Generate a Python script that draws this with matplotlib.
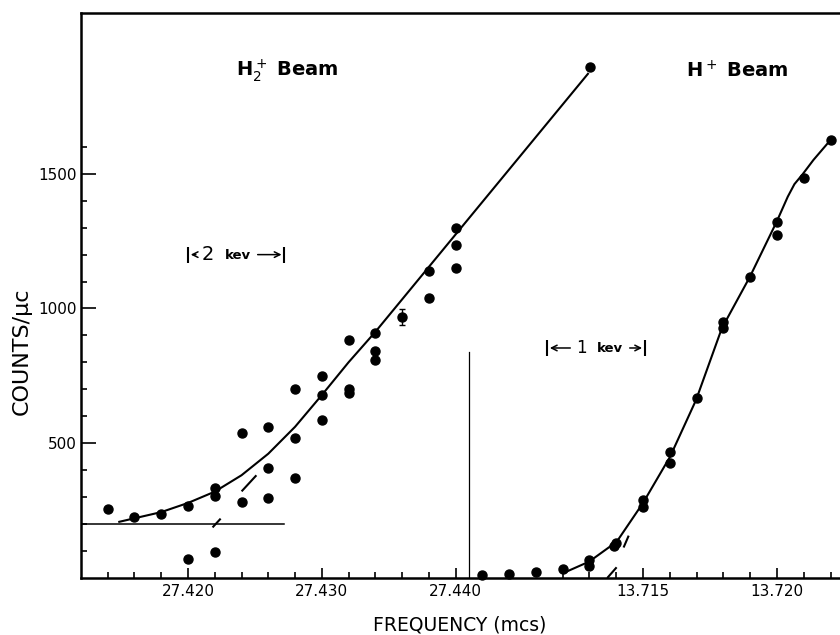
import matplotlib
matplotlib.use('Agg')
import matplotlib.pyplot as plt

plt.rcParams['font.family'] = ['DejaVu Sans']

# H2+ beam (left scale, mcs)
h2_freq = [27.414, 27.416, 27.418, 27.420, 27.420, 27.422, 27.422, 27.422,
           27.424, 27.424, 27.426, 27.426, 27.426, 27.428, 27.428, 27.428,
           27.430, 27.430, 27.430, 27.432, 27.432, 27.432, 27.434, 27.434,
           27.434, 27.438, 27.438, 27.440, 27.440, 27.440, 27.450]
h2_counts = [253, 226, 235, 266, 68, 334, 303, 95,
             537, 281, 558, 406, 295, 702, 520, 369,
             749, 677, 585, 884, 685, 700, 908, 841,
             807, 1039, 1140, 1149, 1236, 1299, 1899]
h2_err_freq = [27.436]
h2_err_counts = [967]
h2_err = [30]

h2_fit_freq = [27.41487, 27.416, 27.418, 27.420, 27.422, 27.424, 27.426,
               27.428, 27.430, 27.432, 27.434, 27.44988]
h2_fit_counts = [207, 220, 243, 277, 319, 380, 460, 560, 678, 800, 913, 1872]

h2_base_freq = [27.41201, 27.4272]
h2_base_counts = [200, 200]
h2_dash1_freq = [27.42189, 27.42239]
h2_dash1_counts = [189, 216]
h2_dash2_freq = [27.42406, 27.42506]
h2_dash2_counts = [323, 377]

divider_freq = [27.44102, 27.44102]
divider_counts = [0, 838]

# H+ beam (right scale, mcs)
h_freq = [13.709, 13.710, 13.711, 13.712, 13.713, 13.713, 13.7139, 13.714,
          13.715, 13.715, 13.716, 13.716, 13.717, 13.718, 13.718, 13.719,
          13.720, 13.720, 13.721, 13.722]
h_counts = [8, 13, 22, 32, 65, 43, 117, 129,
            288, 261, 468, 424, 668, 951, 926, 1118,
            1322, 1273, 1486, 1626]

h_fit_freq = [13.71215, 13.71299, 13.71402, 13.71500, 13.71601, 13.71698,
              13.71794, 13.71899, 13.71999, 13.72040, 13.72065, 13.72095,
              13.72136, 13.72191]
h_fit_counts = [22, 59, 133, 277, 449, 660, 926, 1118, 1323, 1415, 1462, 1498,
                1552, 1616]

h_dash1_freq = [13.71369, 13.71399]
h_dash1_counts = [1, 35]
h_dash2_freq = [13.71429, 13.71445]
h_dash2_counts = [115, 152]

# ticks
h2_major = [27.420, 27.430, 27.440]
h2_major_labels = ['27.420', '27.430', '27.440']
h2_minor = [27.414, 27.416, 27.418, 27.422, 27.424, 27.426, 27.428,
            27.432, 27.434, 27.436, 27.438]
h_major = [13.715, 13.720]
h_major_labels = ['13.715', '13.720']
h_minor = [13.712, 13.713, 13.714, 13.716, 13.717, 13.718, 13.719, 13.721, 13.722]
y_major = [500, 1000, 1500]
y_minor = [100, 200, 300, 400, 600, 700, 800, 900, 1100, 1200, 1300, 1400, 1600]

pos = [81 / 840, 1 - 577.5 / 635, 759 / 840, 564.5 / 635]
fig = plt.figure(figsize=(8.4, 6.35), dpi=100)
ax = fig.add_axes(pos)
ax2 = fig.add_axes(pos, frameon=False)

ylim = (0, 2098)

# left panel
ax.set_xlim(27.41201, 27.46871)
ax.set_ylim(*ylim)
ax.plot(h2_freq, h2_counts, 'o', color='black', ms=6.5)
ax.errorbar(h2_err_freq, h2_err_counts, yerr=h2_err, fmt='o', color='black',
            ms=6.5, capsize=2, elinewidth=1)
ax.plot(h2_fit_freq, h2_fit_counts, color='black', lw=1.5, solid_joinstyle='round')
ax.plot(h2_base_freq, h2_base_counts, color='black', lw=1.1)
ax.plot(h2_dash1_freq, h2_dash1_counts, color='black', lw=1.5)
ax.plot(h2_dash2_freq, h2_dash2_counts, color='black', lw=1.5)
ax.plot(divider_freq, divider_counts, color='black', lw=0.9)

ax.text(27.4274, 1885, r'H$_2^+$ Beam', fontsize=14, fontweight='bold',
        ha='center', va='center')
ax.text(27.4215, 1200, '2', fontsize=14, ha='center', va='center')
ax.text(27.4237, 1195, 'kev', fontsize=9.5, fontweight='bold', ha='center', va='center')
ax.annotate('', xy=(27.4200, 1200), xytext=(27.4208, 1200),
            arrowprops=dict(arrowstyle='->', lw=1.1, color='black'))
ax.annotate('', xy=(27.4272, 1200), xytext=(27.4250, 1200),
            arrowprops=dict(arrowstyle='->', lw=1.1, color='black'))
ax.plot([27.4200, 27.4272], [1200, 1200], '|', color='black', ms=11, mew=1.5)

ax.set_xticks(h2_major)
ax.set_xticklabels(h2_major_labels)
ax.set_xticks(h2_minor, minor=True)
ax.set_yticks(y_major)
ax.set_yticks(y_minor, minor=True)
ax.tick_params(axis='x', which='major', direction='in', length=7.5, width=1.2,
               labelsize=11, pad=5)
ax.tick_params(axis='x', which='minor', direction='in', length=4.5, width=1.2)
ax.tick_params(axis='y', which='major', direction='in', length=10.8, width=1.2,
               labelsize=11, pad=3)
ax.tick_params(axis='y', which='minor', direction='in', length=4.5, width=1.2)
ax.spines['right'].set_visible(False)
for s in ['left', 'top', 'bottom']:
    ax.spines[s].set_linewidth(1.8)

# right panel
ax2.patch.set_visible(False)
ax2.set_xlim(13.69403, 13.72235)
ax2.set_ylim(*ylim)
ax2.plot(h_freq, h_counts, 'o', color='black', ms=6.5, clip_on=False)
ax2.plot(h_fit_freq, h_fit_counts, color='black', lw=1.5, solid_joinstyle='round')
ax2.plot(h_dash1_freq, h_dash1_counts, color='black', lw=1.5)
ax2.plot(h_dash2_freq, h_dash2_counts, color='black', lw=1.5)

ax2.text(13.71852, 1885, r'H$^+$ Beam', fontsize=14, fontweight='bold',
         ha='center', va='center')
ax2.text(13.71271, 853, '1', fontsize=12, ha='center', va='center')
ax2.text(13.71377, 850, 'kev', fontsize=9.5, fontweight='bold', ha='center', va='center')
ax2.annotate('', xy=(13.71142, 853), xytext=(13.71239, 853),
             arrowprops=dict(arrowstyle='->', lw=1.1, color='black'))
ax2.annotate('', xy=(13.71507, 853), xytext=(13.71440, 853),
             arrowprops=dict(arrowstyle='->', lw=1.1, color='black'))
ax2.plot([13.71142, 13.71507], [853, 853], '|', color='black', ms=11, mew=1.5)

ax2.set_xticks(h_major)
ax2.set_xticklabels(h_major_labels)
ax2.set_xticks(h_minor, minor=True)
ax2.set_yticks([])
ax2.tick_params(axis='x', which='major', direction='in', length=7.5, width=1.2,
                labelsize=11, pad=5)
ax2.tick_params(axis='x', which='minor', direction='in', length=4.5, width=1.2)

fig.text(22 / 840, 1 - 351 / 635, 'COUNTS/\u03bcc', rotation=90, fontsize=16,
         ha='center', va='center')
fig.text(460 / 840, 1 - 625 / 635, 'FREQUENCY (mcs)', fontsize=13.5,
         ha='center', va='center')

fig.savefig('out.png', dpi=100)
